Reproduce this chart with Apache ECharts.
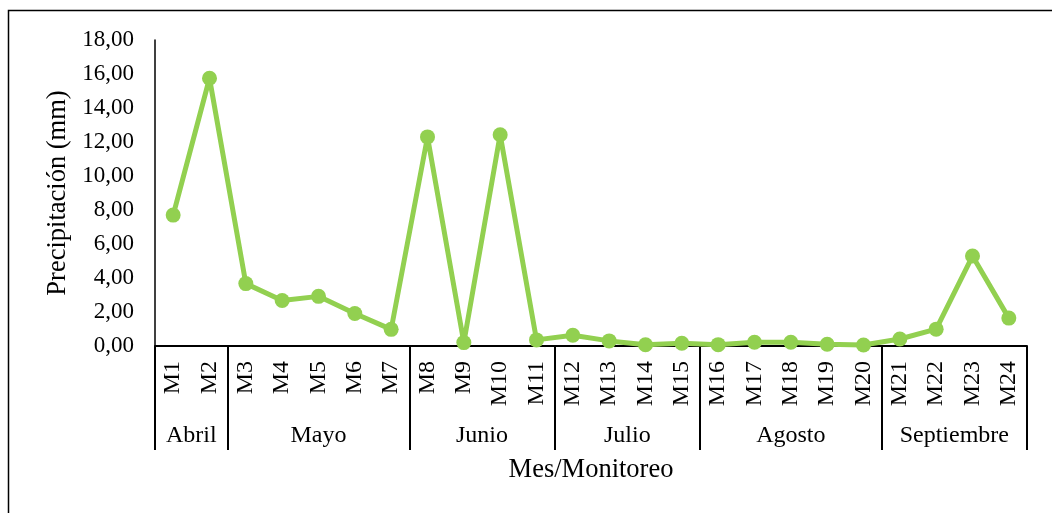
<!DOCTYPE html>
<html>
<head>
<meta charset="utf-8">
<script src="https://cdn.jsdelivr.net/npm/echarts@6/dist/echarts.min.js"></script>
<style>
  html, body { margin: 0; padding: 0; background: #fff; }
  #charts { width: 1052px; height: 513px; }
</style>
</head>
<body>
<div id="charts"></div>
<script>
var monitoreos = ['M1','M2','M3','M4','M5','M6','M7','M8','M9','M10','M11','M12',
                  'M13','M14','M15','M16','M17','M18','M19','M20','M21','M22','M23','M24'];
var precipitacion = [7.70, 15.75, 3.67, 2.68, 2.92, 1.91, 0.98, 12.30, 0.20, 12.43, 0.36, 0.63,
                     0.30, 0.07, 0.16, 0.08, 0.22, 0.22, 0.10, 0.06, 0.41, 0.99, 5.29, 1.64];
var meses = ['Abril', 'Mayo', 'Junio', 'Julio', 'Agosto', 'Septiembre'];
var mesesCantidad = [2, 5, 4, 4, 5, 4];

// limites y centros de cada mes sobre el eje de monitoreos
var limites = [0];
var centros = [];
mesesCantidad.forEach(function (n) {
    var ini = limites[limites.length - 1];
    centros.push(ini + n / 2);
    limites.push(ini + n);
});

var fuente = 'Liberation Serif';
var myChart = echarts.init(document.getElementById('charts'));

var option = {
    backgroundColor: '#fff',
    animation: false,
    textStyle: { fontFamily: fuente, color: '#000' },
    graphic: [{
        type: 'rect',
        shape: { x: 8.5, y: 10.5, width: 1060, height: 520 },
        style: { fill: 'none', stroke: '#000', lineWidth: 1.5 }
    }],
    grid: { left: 155, right: 25, top: 40, bottom: 167 },
    xAxis: [{
        type: 'category',
        data: monitoreos,
        position: 'bottom',
        axisLine: { lineStyle: { color: '#000', width: 2 } },
        axisTick: { show: false },
        axisLabel: { rotate: 90, margin: 15, fontSize: 24, fontFamily: fuente, color: '#000' },
        splitLine: { show: false }
    }, {
        type: 'value',
        min: 0,
        max: limites[limites.length - 1],
        position: 'bottom',
        axisLine: { show: false },
        axisTick: {
            show: true, customValues: limites, length: 104,
            lineStyle: { color: '#000', width: 2 }
        },
        axisLabel: {
            customValues: centros,
            margin: 78,
            fontSize: 24,
            fontFamily: fuente,
            color: '#000',
            formatter: function (v) {
                var i = centros.indexOf(v);
                return i >= 0 ? meses[i] : '';
            }
        },
        splitLine: { show: false },
        name: 'Mes/Monitoreo',
        nameLocation: 'middle',
        nameGap: 111,
        nameTextStyle: { fontSize: 26.5, fontFamily: fuente, color: '#000' }
    }],
    yAxis: {
        type: 'value',
        min: 0,
        max: 18,
        interval: 2,
        axisLine: { show: true, lineStyle: { color: '#000', width: 1.5 } },
        axisTick: { show: false },
        splitLine: { show: false },
        axisLabel: {
            margin: 21,
            fontSize: 23,
            fontFamily: fuente,
            color: '#000',
            formatter: function (v) { return v.toFixed(2).replace('.', ','); }
        },
        name: 'Precipitación (mm)',
        nameLocation: 'middle',
        nameGap: 82,
        nameTextStyle: { fontSize: 26.5, fontFamily: fuente, color: '#000' }
    },
    series: [{
        type: 'line',
        data: precipitacion,
        xAxisIndex: 0,
        symbol: 'circle',
        symbolSize: 15,
        lineStyle: { color: '#92D050', width: 5 },
        itemStyle: { color: '#92D050' }
    }]
};
myChart.setOption(option);
</script>
</body>
</html>
